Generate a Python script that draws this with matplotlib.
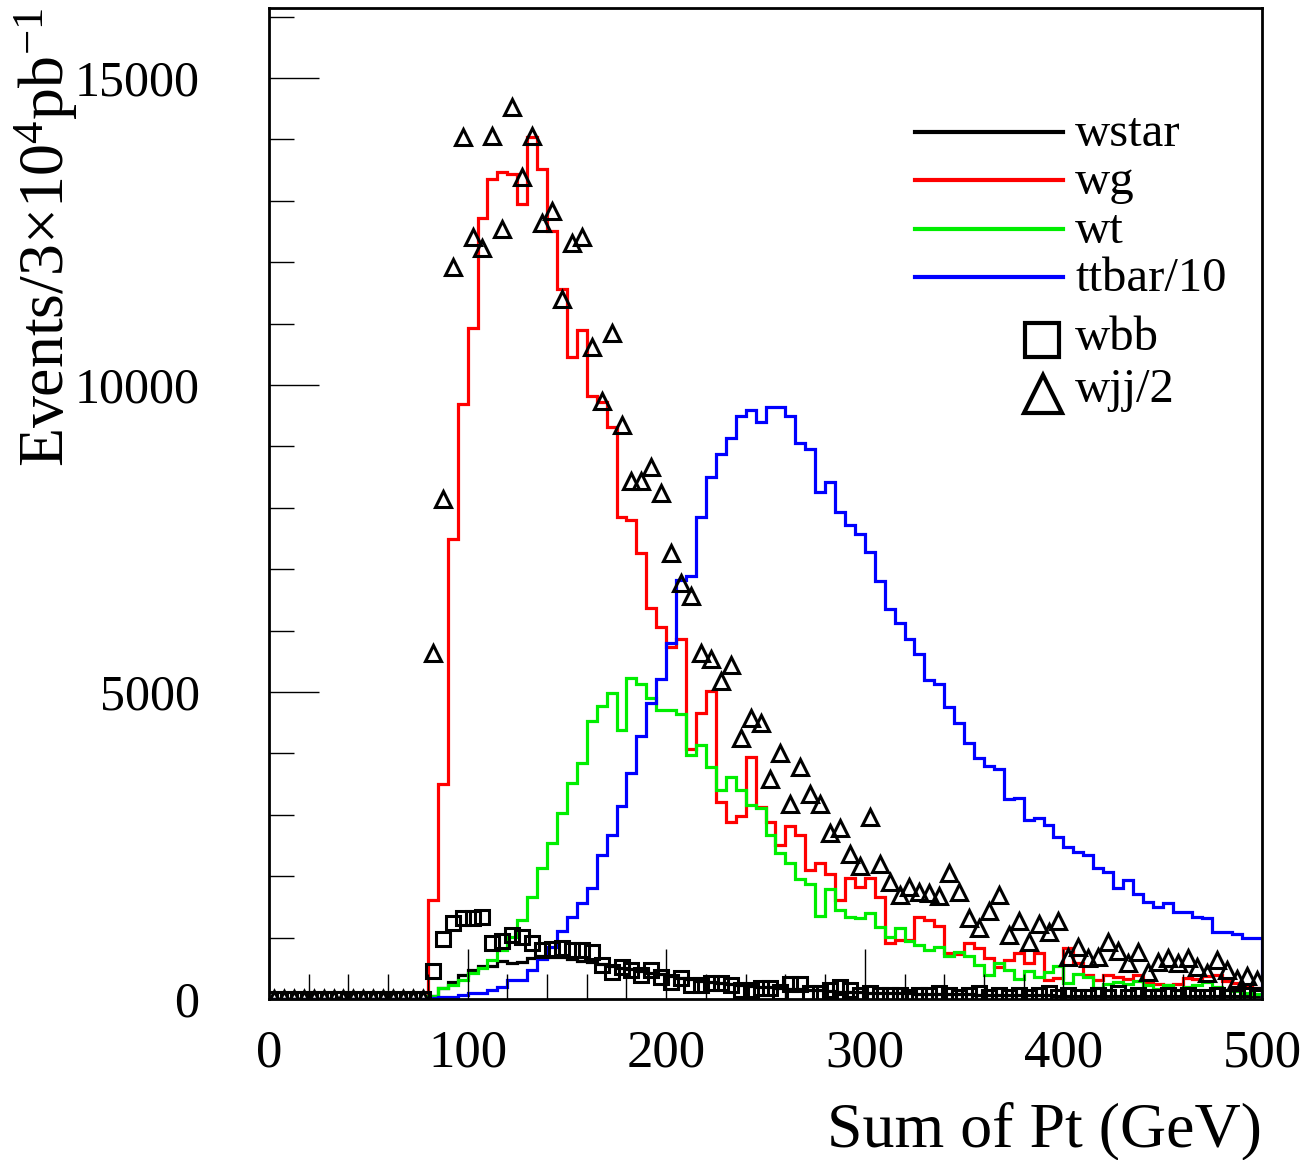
import numpy as np
import matplotlib
matplotlib.use("Agg")
import matplotlib.pyplot as plt
from matplotlib.lines import Line2D
from matplotlib.ticker import MultipleLocator

plt.rcParams['font.family'] = ['Liberation Serif', 'DejaVu Serif']
plt.rcParams['mathtext.fontset'] = 'custom'
plt.rcParams['mathtext.rm'] = 'Liberation Serif'
plt.rcParams['mathtext.it'] = 'Liberation Serif:italic'

# ---- data: 100 bins of 5 GeV from 0 to 500 ----
bin_edges = np.arange(0, 505, 5)
zeros16 = [0] * 16

wstar = zeros16 + [
    49, 180, 277, 391, 472, 537, 545, 619, 586, 600,
    668, 700, 690, 680, 650, 620, 600, 570, 540, 510,
    490, 460, 430, 400, 370, 350, 330, 300, 280, 260,
    245, 230, 215, 200, 190, 175, 165, 155, 145, 140,
    130, 120, 115, 110, 105, 100, 95, 92, 90, 88,
    85, 82, 80, 78, 75, 73, 70, 68, 66, 64,
    62, 60, 58, 56, 55, 54, 53, 52, 51, 50,
    50, 49, 48, 48, 47, 47, 46, 46, 45, 45,
    44, 44, 43, 43]

wg = zeros16 + [
    1613, 3502, 7493, 9693, 10931, 12722, 13358, 13477, 13440, 12950,
    14042, 13521, 12511, 11566, 10458, 10898, 9823, 9725, 9318, 7852,
    7803, 7265, 6369, 6060, 5734, 5864, 4073, 4659, 5017, 3209,
    2883, 2981, 3942, 3128, 2883, 2509, 2818, 2671, 2101, 2215,
    2036, 1613, 1971, 1824, 1971, 1662, 912, 961, 961, 1336,
    1287, 1189, 749, 733, 912, 831, 668, 521, 635, 749,
    586, 749, 309, 342, 831, 586, 391, 309, 390, 360,
    330, 390, 280, 250, 230, 250, 350, 330, 370, 390,
    300, 260, 200, 180]

wt = zeros16 + [
    49, 180, 228, 310, 420, 500, 635, 800, 1010, 1287,
    1662, 2134, 2541, 3030, 3518, 3844, 4529, 4773, 4985, 4382,
    5229, 5131, 4903, 4708, 4708, 4643, 3975, 4138, 3779, 3405,
    3616, 3405, 3160, 3111, 2671, 2378, 2215, 1955, 1873, 1352,
    1792, 1450, 1336, 1320, 1401, 1173, 1010, 1157, 945, 880,
    798, 847, 700, 766, 700, 554, 391, 586, 472, 326,
    456, 358, 440, 538, 261, 407, 358, 179, 250, 280,
    250, 300, 230, 160, 230, 150, 200, 220, 270, 200,
    150, 130, 100, 80]

ttbar10 = zeros16 + [
    10, 33, 33, 65, 98, 98, 147, 195, 310, 310,
    472, 650, 850, 1100, 1336, 1564, 1808, 2346, 2671, 3144,
    3682, 4284, 4822, 5213, 5799, 6826, 6891, 7852, 8503, 8878,
    9130, 9490, 9595, 9399, 9644, 9644, 9497, 9057, 8960, 8259,
    8422, 7933, 7721, 7575, 7282, 6809, 6353, 6125, 5864, 5620,
    5197, 5131, 4757, 4490, 4170, 3926, 3796, 3747, 3258, 3280,
    2916, 2949, 2834, 2639, 2476, 2395, 2346, 2134, 2069, 1808,
    1939, 1710, 1580, 1499, 1564, 1417, 1417, 1336, 1320, 1091,
    1091, 1059, 994, 994]

wbb = zeros16 + [
    456, 977, 1238, 1320, 1320, 1336, 912, 945, 1042, 1010,
    912, 798, 815, 831, 798, 798, 766, 554, 440, 521,
    472, 391, 472, 358, 277, 342, 228, 228, 261, 261,
    228, 147, 147, 179, 179, 114, 244, 244, 98, 98,
    147, 195, 147, 65, 98, 65, 65, 65, 33, 65,
    65, 98, 65, 33, 65, 98, 33, 65, 33, 65,
    33, 65, 98, 33, 65, 33, 33, 65, 33, 98,
    33, 65, 33, 33, 65, 33, 65, 33, 33, 65,
    33, 33, 65, 33]

wjj2 = zeros16 + [
    5636, 8145, 11924, 14042, 12413, 12234, 14058, 12543, 14531, 13390,
    14058, 12641, 12837, 11403, 12315, 12413, 10621, 9741, 10849, 9350,
    8438, 8438, 8666, 8243, 7265, 6777, 6565, 5636, 5539, 5180,
    5441, 4252, 4577, 4496, 3584, 4007, 3177, 3779, 3339, 3177,
    2704, 2786, 2362, 2167, 2965, 2199, 1906, 1694, 1824, 1743,
    1727, 1678, 2053, 1743, 1319, 1157, 1434, 1694, 1043, 1271,
    929, 1222, 1091, 1271, 684, 847, 668, 684, 929, 782,
    586, 766, 440, 603, 668, 586, 668, 521, 424, 635,
    472, 326, 375, 310]

labels = ['wstar', 'wg', 'wt', 'ttbar/10', 'wbb', 'wjj/2']
colors = ['black', '#ff0000', '#00ee00', '#0000ff']

W, H = 1309, 1160
fig = plt.figure(figsize=(W / 100, H / 100), dpi=100)
ax = fig.add_axes([269 / W, 1 - 999 / H, (1262 - 269) / W, (999 - 8) / H])

centers = 0.5 * (bin_edges[:-1] + bin_edges[1:])
lw = 2.3
for vals, c in zip([wstar, wg, wt, ttbar10], colors):
    ax.stairs(vals, bin_edges, color=c, lw=lw, baseline=0)

ax.plot(centers, wbb, ls='none', marker='s', ms=9.5, mfc='none', mec='black', mew=2.2)
ax.plot(centers, wjj2, ls='none', marker='^', ms=11, mfc='none', mec='black', mew=2.2)

ax.set_xlim(0, 500)
ax.set_ylim(0, 16140)
for s in ax.spines.values():
    s.set_linewidth(2.0)

ax.xaxis.set_major_locator(MultipleLocator(100))
ax.xaxis.set_minor_locator(MultipleLocator(20))
ax.yaxis.set_major_locator(MultipleLocator(5000))
ax.yaxis.set_minor_locator(MultipleLocator(1000))
ax.tick_params(axis='both', which='both', direction='in', width=1.0)
ax.tick_params(axis='both', which='major', length=36)
ax.tick_params(axis='both', which='minor', length=18)
ax.tick_params(axis='x', which='major', pad=22, labelsize=38)
ax.tick_params(axis='y', which='major', pad=50, labelsize=36)

# axis titles
fig.text(1262 / W, 1 - 1146 / H, 'Sum of Pt (GeV)', ha='right', va='baseline', fontsize=46)
fig.text(46 / W, 1 - 8 / H, r'Events/3$\times$10$^{4}$pb$^{-1}$', rotation=90,
         ha='center', va='top', fontsize=46)

# legend (hand placed, ROOT style)
def fx(px):
    return px / W

def fy(py):
    return 1 - py / H

rows_line = [132, 180, 229, 277]
rows_text = [146, 194, 243, 291]
for lab, c, yl, yt in zip(labels[:4], colors, rows_line, rows_text):
    fig.add_artist(Line2D([fx(915), fx(1063)], [fy(yl), fy(yl)], color=c, lw=3,
                          transform=fig.transFigure))
    fig.text(fx(1075), fy(yt), lab, ha='left', va='baseline', fontsize=35)
fig.add_artist(Line2D([fx(1042)], [fy(340)], marker='s', ms=25, mfc='none', mec='black',
                      mew=3, transform=fig.transFigure))
fig.text(fx(1075), fy(350), labels[4], ha='left', va='baseline', fontsize=35)
fig.add_artist(Line2D([fx(1043)], [fy(394)], marker='^', ms=27, mfc='none', mec='black',
                      mew=3, transform=fig.transFigure))
fig.text(fx(1075), fy(402), labels[5], ha='left', va='baseline', fontsize=35)

fig.savefig('out.png', dpi=100)
